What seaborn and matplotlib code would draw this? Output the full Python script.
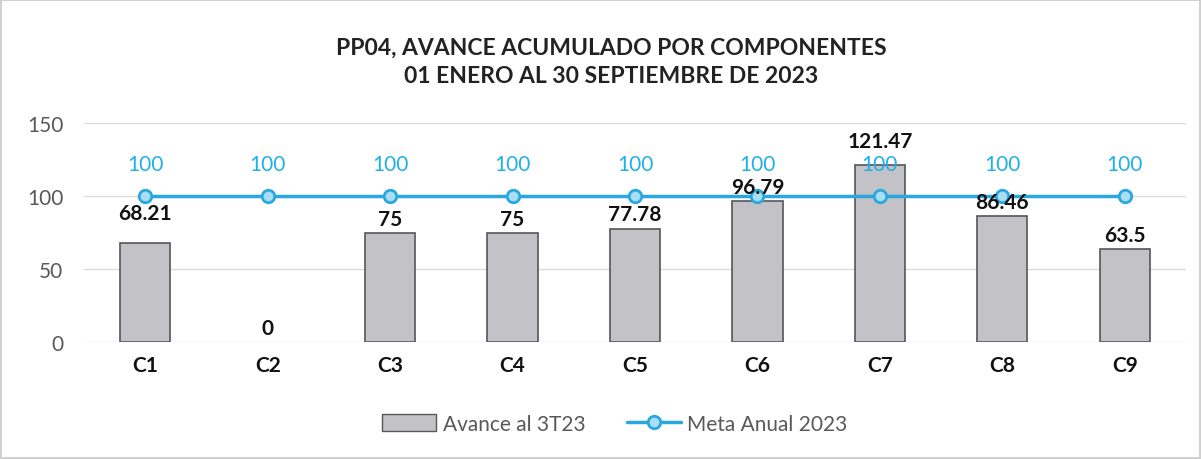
import matplotlib
matplotlib.use('Agg')
import matplotlib.pyplot as plt
import seaborn as sns
from matplotlib.patches import Patch
from matplotlib.lines import Line2D

# Data
componentes = ['C1', 'C2', 'C3', 'C4', 'C5', 'C6', 'C7', 'C8', 'C9']
avance = [68.21, 0, 75, 75, 77.78, 96.79, 121.47, 86.46, 63.5]
meta = [100, 100, 100, 100, 100, 100, 100, 100, 100]
avance_lbl = ['68.21', '0', '75', '75', '77.78', '96.79', '121.47', '86.46', '63.5']
y_ticks = [0, 50, 100, 150]

titulo = 'PP04, AVANCE ACUMULADO POR COMPONENTES\n01 ENERO AL 30 SEPTIEMBRE DE 2023'

sns.set_theme(style='white')
plt.rcParams['font.family'] = ['Lato', 'DejaVu Sans']

bar_color = '#c3c3c7'
bar_edge = '#55555a'
line_color = '#2aa7df'
marker_face = '#a9def5'

fig = plt.figure(figsize=(12.01, 4.6), dpi=100)
fig.patch.set_edgecolor('#d0d0d0')
fig.patch.set_linewidth(1.5)
ax = fig.add_axes([0.07, 0.254, 0.9175, 0.476])

sns.barplot(x=componentes, y=avance, ax=ax, color=bar_color, width=0.41,
            edgecolor=bar_edge, linewidth=1.2, saturation=1, zorder=2)
# no outline for empty bars
for p in ax.patches:
    if p.get_height() == 0:
        p.set_linewidth(0)

sns.pointplot(x=componentes, y=meta, ax=ax, color=line_color, markers='o',
              markersize=9, linewidth=2.5, markerfacecolor=marker_face,
              markeredgecolor=line_color, markeredgewidth=2)
for ln in ax.lines:
    ln.set_zorder(3)

# data labels (C1 and C7 sit a bit higher, as in the original)
lift = {0: 14, 6: 10}
for i, (v, t) in enumerate(zip(avance, avance_lbl)):
    ax.annotate(t, (i, v), xytext=(0, lift.get(i, 3)), textcoords='offset points',
                ha='center', va='bottom', fontsize=15, fontweight='bold',
                color='#111111', zorder=5)
for i, v in enumerate(meta):
    ax.annotate(str(v), (i, v), xytext=(0, 23), textcoords='offset points',
                ha='center', va='center', fontsize=15, color='#1fb0ea', zorder=5)

ax.set_ylim(0, 150)
ax.set_xlim(-0.5, len(componentes) - 0.5)
ax.set_yticks(y_ticks)
ax.yaxis.grid(True, color='#dcdcdc', linewidth=1)
ax.set_axisbelow(True)
for s in ax.spines.values():
    s.set_visible(False)
ax.tick_params(axis='y', labelsize=15, labelcolor='#595959', length=0, pad=15)
ax.tick_params(axis='x', labelsize=15, length=0, pad=9)
for lbl in ax.get_xticklabels():
    lbl.set_fontweight('bold')
    lbl.set_color('#111111')
ax.set_xlabel('')
ax.set_ylabel('')

fig.text(0.509, 0.865, titulo, ha='center', va='center', fontsize=16.5,
         fontweight='bold', color='#222222', linespacing=1.45)

handles = [Patch(facecolor=bar_color, edgecolor=bar_edge, label='Avance al 3T23'),
           Line2D([0], [0], color=line_color, linewidth=2.5, marker='o', markersize=9,
                  markerfacecolor=marker_face, markeredgecolor=line_color,
                  markeredgewidth=2, label='Meta Anual 2023')]
fig.legend(handles=handles, loc='center', bbox_to_anchor=(0.512, 0.076), ncol=2,
           frameon=False, fontsize=15, handlelength=2.6, handleheight=0.9,
           columnspacing=2.0, handletextpad=0.3, labelcolor='#595959')

fig.savefig('out.png', dpi=100)
